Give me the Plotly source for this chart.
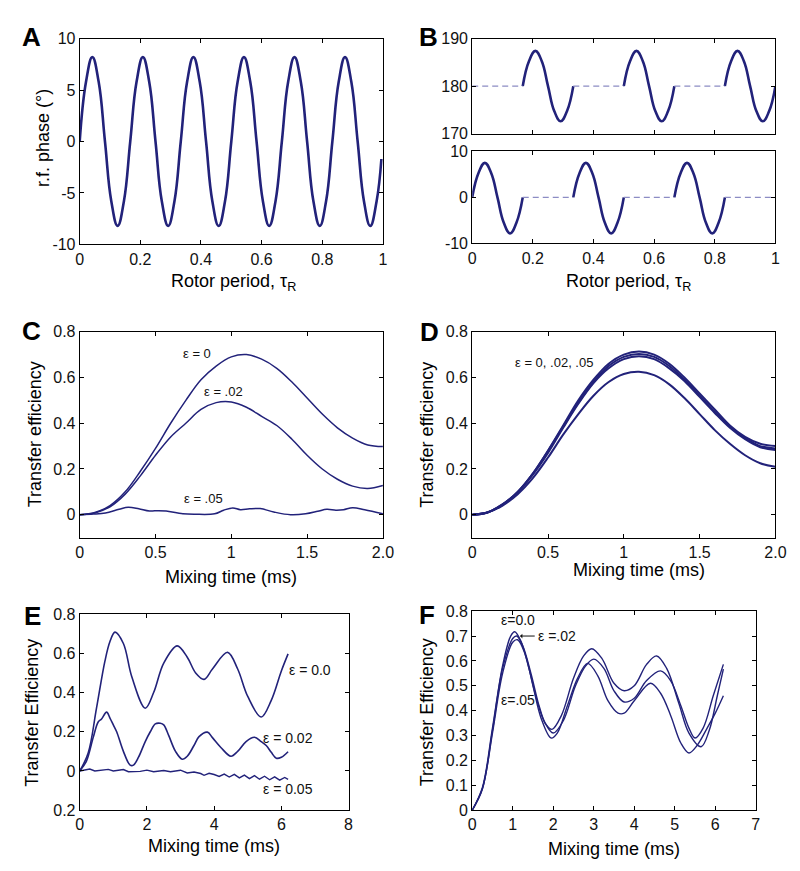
import plotly.graph_objects as go

NAVY = '#22227a'
DASH = '#8c8cc4'
FONT = 'Arial, Liberation Sans, sans-serif'

# ---- A: r.f. phase over one rotor period
phase_x = [0, .0208, .0417, .0625, .0833, .1042, .125, .1458, .1667, .1875, .2083, .2292,
           .25, .2708, .2917, .3125, .3333, .3542, .375, .3958, .4167, .4375, .4583, .4792,
           .5, .5208, .5417, .5625, .5833, .6042, .625, .6458, .6667, .6875, .7083, .7292,
           .75, .7708, .7917, .8125, .8333, .8542, .875, .8958, .9167, .9375, .9583, .9792, .995]
phase_y = [0, 5.8, 8.2, 5.8, 0, -5.8, -8.2, -5.8, 0, 5.8, 8.2, 5.8,
           0, -5.8, -8.2, -5.8, 0, 5.8, 8.2, 5.8, 0, -5.8, -8.2, -5.8,
           0, 5.8, 8.2, 5.8, 0, -5.8, -8.2, -5.8, 0, 5.8, 8.2, 5.8,
           0, -5.8, -8.2, -5.8, 0, 5.8, 8.2, 5.8, 0, -5.8, -8.2, -5.8, -1.7]

# ---- B: windowed phase pulses
pulse_dx = [0, .0208, .0417, .0625, .0833, .1042, .125, .1458, .1667]
top_pulse = [180, 185.3, 187.4, 185.3, 180, 174.7, 172.6, 174.7, 180]
bot_pulse = [0, 5.3, 7.5, 5.3, 0, -5.5, -7.8, -5.5, 0]
top_starts = [0.1667, 0.5, 0.8333]
bot_starts = [0, 0.3333, 0.6667]
top_gaps = [(0, 0.1667), (0.3333, 0.5), (0.6667, 0.8333)]
bot_gaps = [(0.1667, 0.3333), (0.5, 0.6667), (0.8333, 1.0)]

# ---- C: transfer efficiency, 0-2 ms
c_x = [0, .1, .2, .3, .4, .5, .6, .7, .8, .9, 1.0, 1.1, 1.2, 1.3, 1.4, 1.5, 1.6, 1.7, 1.8, 1.9, 2.0]
c_eps0 = [0, .01, .04, .10, .19, .29, .40, .50, .59, .65, .69, .70, .68, .64, .58, .51, .44, .38, .335, .305, .298]
c_eps02 = [0, .008, .035, .09, .17, .26, .34, .40, .46, .49, .493, .47, .43, .39, .33, .26, .20, .155, .125, .115, .128]
c05_x = [0, .09, .17, .26, .32, .39, .46, .52, .57, .68, .76, .89, .95, 1.01, 1.06, 1.12, 1.19,
         1.28, 1.39, 1.49, 1.57, 1.63, 1.69, 1.74, 1.8, 1.88, 2.0]
c_eps05 = [0, .003, .008, .024, .033, .026, .016, .018, .016, .004, .002, .004, .02, .03, .022, .026, .027,
           .012, 0, .004, .015, .024, .02, .022, .031, .022, .004]

# ---- D: compensated sequence
d_x = c_x
d_curves = [
    [0, .01, .045, .10, .18, .28, .39, .50, .59, .66, .70, .713, .70, .66, .60, .53, .46, .39, .34, .31, .30],
    [0, .01, .045, .10, .18, .28, .385, .49, .58, .65, .69, .703, .69, .65, .59, .52, .45, .385, .335, .30, .29],
    [0, .01, .043, .098, .175, .27, .38, .485, .575, .64, .68, .693, .68, .64, .585, .515, .445, .38, .33, .295, .283],
    [0, .01, .04, .09, .16, .25, .35, .44, .52, .58, .615, .625, .61, .57, .51, .44, .37, .31, .26, .225, .21],
]

# ---- E: long mixing times
e0_x = [0, .25, .5, .75, .9, 1.05, 1.3, 1.55, 1.95, 2.2, 2.5, 2.9, 3.2, 3.45, 3.7, 3.95, 4.4, 4.7, 5.0, 5.4, 5.7, 6.0, 6.2]
e0_y = [0, .09, .32, .56, .66, .708, .65, .48, .32, .40, .55, .638, .58, .50, .467, .52, .605, .52, .38, .275, .36, .51, .597]
e02_x = [0, .2, .4, .55, .65, .8, .9, 1.0, 1.1, 1.3, 1.5, 1.6, 1.75, 1.95, 2.1, 2.25, 2.4, 2.5, 2.65, 2.85,
         3.05, 3.2, 3.4, 3.55, 3.8, 3.95, 4.2, 4.5, 4.7, 4.95, 5.2, 5.4, 5.55, 5.7, 5.85, 6.0, 6.2]
e02_y = [0, .05, .17, .25, .265, .30, .27, .235, .20, .10, .03, .03, .07, .15, .20, .24, .243, .235, .18, .10,
         .06, .075, .13, .175, .198, .17, .12, .075, .10, .15, .172, .15, .13, .095, .065, .07, .098]
e05_x = [0, .3, .45, .6, .85, 1.0, 1.3, 1.45, 1.8, 2.0, 2.2, 2.5, 2.7, 3.0, 3.2, 3.4, 3.6, 3.7, 3.85, 4.0,
         4.15, 4.3, 4.45, 4.6, 4.75, 4.9, 5.05, 5.2, 5.35, 5.5, 5.65, 5.8, 5.95, 6.1, 6.2]
e05_y = [0, .01, 0, .003, .008, 0, .007, -.004, -.002, .004, -.004, .002, -.004, .004, -.01, -.005, -.013, -.022,
         -.012, -.018, -.028, -.016, -.031, -.017, -.035, -.021, -.039, -.024, -.042, -.027, -.045, -.03, -.047, -.033, -.043]

# ---- F: long mixing times, compensated
f0_x = [0, .25, .5, .75, .95, 1.05, 1.2, 1.4, 1.6, 1.8, 1.97, 2.2, 2.5, 2.75, 2.95, 3.2, 3.5, 3.75, 4.0,
        4.3, 4.55, 4.8, 5.1, 5.35, 5.65, 5.85, 6.05, 6.2]
f0_y = [0, .09, .33, .58, .70, .717, .68, .57, .44, .35, .325, .38, .53, .62, .649, .61, .51, .48, .50,
        .585, .62, .57, .43, .31, .255, .32, .46, .567]
f1_x = [0, .25, .5, .75, 1.0, 1.1, 1.25, 1.45, 1.65, 1.8, 2.0, 2.25, 2.55, 2.8, 3.0, 3.25, 3.5, 3.75, 4.0,
        4.3, 4.65, 4.9, 5.15, 5.35, 5.5, 5.7, 5.95, 6.2]
f1_y = [0, .085, .32, .57, .69, .70, .66, .55, .42, .35, .31, .36, .50, .58, .607, .57, .48, .435, .45,
        .52, .56, .52, .42, .33, .29, .33, .46, .586]
f2_x = [0, .25, .5, .75, 1.0, 1.12, 1.3, 1.5, 1.7, 1.95, 2.1, 2.35, 2.6, 2.85, 3.1, 3.35, 3.6, 3.75, 4.0,
        4.4, 4.65, 4.9, 5.15, 5.35, 5.55, 5.8, 6.0, 6.2]
f2_y = [0, .085, .31, .55, .675, .685, .63, .50, .37, .29, .31, .42, .53, .59, .54, .44, .39, .39, .44,
        .51, .47, .38, .27, .23, .26, .33, .39, .46]


def line(x, y, ax, width=1.5, color=NAVY, dash=None, smooth=1.0):
    return go.Scatter(x=x, y=y, xaxis='x' + ax, yaxis='y' + ax, mode='lines',
                      line=dict(color=color, width=width, dash=dash,
                                shape='spline' if smooth else 'linear', smoothing=smooth or 0),
                      showlegend=False, hoverinfo='skip')


fig = go.Figure()

# A
fig.add_trace(line(phase_x, phase_y, '', width=2.6, smooth=1.25))

# B
for s in top_starts:
    fig.add_trace(line([s + d for d in pulse_dx], top_pulse, '2', width=2.6, smooth=1.25))
for a, b in top_gaps:
    fig.add_trace(line([a, b], [180, 180], '2', width=1.2, color=DASH, dash='6px,4px', smooth=0))
for s in bot_starts:
    fig.add_trace(line([s + d for d in pulse_dx], bot_pulse, '3', width=2.6, smooth=1.25))
for a, b in bot_gaps:
    fig.add_trace(line([a, b], [0, 0], '3', width=1.2, color=DASH, dash='6px,4px', smooth=0))

# C
fig.add_trace(line(c_x, c_eps0, '4'))
fig.add_trace(line(c_x, c_eps02, '4'))
fig.add_trace(line(c05_x, c_eps05, '4'))

# D
for ys in d_curves:
    fig.add_trace(line(d_x, ys, '5', width=2))

# E
fig.add_trace(line(e0_x, e0_y, '6', width=1.6))
fig.add_trace(line(e02_x, e02_y, '6', width=1.6))
fig.add_trace(line(e05_x, e05_y, '6', width=1.4, smooth=0))

# F
fig.add_trace(line(f0_x, f0_y, '7', width=1.4))
fig.add_trace(line(f1_x, f1_y, '7', width=1.4))
fig.add_trace(line(f2_x, f2_y, '7', width=1.4))

W, H = 800, 871


def fx(p):
    return p / W


def fy(p):
    return 1 - p / H


axis_style = dict(showline=True, linecolor='black', linewidth=1, mirror='ticks',
                  ticks='inside', ticklen=4, tickcolor='black', showgrid=False,
                  zeroline=False, tickfont=dict(family=FONT, size=16, color='#111'))


def xax(dom, rng, vals, text, anchor, labels=True):
    return dict(axis_style, domain=[fx(dom[0]), fx(dom[1])], range=rng, tickvals=vals,
                ticktext=text, anchor=anchor, showticklabels=labels)


def yax(dom, rng, vals, text, anchor):
    return dict(axis_style, domain=[fy(dom[1]), fy(dom[0])], range=rng, tickvals=vals,
                ticktext=text, anchor=anchor)


fr = [0, .2, .4, .6, .8, 1]
fr_t = ['0', '0.2', '0.4', '0.6', '0.8', '1']
ms2 = [0, .5, 1, 1.5, 2]
ms2_t = ['0', '0.5', '1', '1.5', '2.0']
te = [0, .2, .4, .6, .8]
te_t = ['0', '0.2', '0.4', '0.6', '0.8']

fig.update_layout(
    xaxis=xax((69, 378), [0, 1], fr, fr_t, 'y'),
    yaxis=yax((23, 233), [-10, 10], [-10, -5, 0, 5, 10], ['-10', '-5', '0', '5', '10'], 'x'),
    xaxis2=xax((469, 778), [0, 1], fr, fr_t, 'y2', labels=False),
    yaxis2=yax((23, 120), [170, 190], [170, 180, 190], ['170', '180', '190'], 'x2'),
    xaxis3=xax((469, 778), [0, 1], fr, fr_t, 'y3'),
    yaxis3=yax((138, 232), [-10, 10], [-10, 0, 10], ['-10', '0', '10'], 'x3'),
    xaxis4=xax((69, 378), [0, 2], ms2, ms2_t, 'y4'),
    yaxis4=yax((322, 532), [-0.1, 0.8], te, te_t, 'x4'),
    xaxis5=xax((469, 778), [0, 2], ms2, ms2_t, 'y5'),
    yaxis5=yax((322, 532), [-0.1, 0.8], te, te_t, 'x5'),
    xaxis6=xax((69, 343), [0, 8], [0, 2, 4, 6, 8], ['0', '2', '4', '6', '8'], 'y6'),
    yaxis6=yax((610, 810), [-0.2, 0.8], [-0.2, 0, .2, .4, .6, .8],
               ['0.2', '0', '0.2', '0.4', '0.6', '0.8'], 'x6'),
    xaxis7=xax((469, 758), [0, 7], list(range(8)), [str(i) for i in range(8)], 'y7'),
    yaxis7=yax((607, 810), [0, 0.8], [0, .1, .2, .3, .4, .5, .6, .7, .8],
               ['0', '0.1', '0.2', '0.3', '0.4', '0.5', '0.6', '0.7', '0.8'], 'x7'),
    width=W, height=H,
    margin=dict(l=0, r=0, t=0, b=0),
    paper_bgcolor='white', plot_bgcolor='white',
    font=dict(family=FONT, color='#111'),
)


def paper_text(text, x, y, size=18, angle=0, bold=False):
    if bold:
        text = '<b>' + text + '</b>'
    fig.add_annotation(text=text, x=fx(x), y=fy(y), xref='paper', yref='paper',
                       showarrow=False, textangle=angle, xanchor='center', yanchor='middle',
                       font=dict(family=FONT, size=size, color='black'))


def data_text(text, x, y, ax, size=13):
    fig.add_annotation(text=text, x=x, y=y, xref='x' + ax, yref='y' + ax, showarrow=False,
                       xanchor='center', yanchor='middle',
                       font=dict(family=FONT, size=size, color='#111'))


# panel letters
for letter, x, y in [('A', 20, 21), ('B', 424, 21), ('C', 20, 321), ('D', 425, 322),
                     ('E', 21, 612), ('F', 423, 611)]:
    paper_text(letter, x, y, size=26, bold=True)

# axis titles
rotor = 'Rotor period, \u03c4<sub>R</sub>'
paper_text(rotor, 226, 272)
paper_text(rotor, 628, 272)
paper_text('r.f. phase (\u00b0)', 31, 124, angle=-90)
paper_text('Mixing time (ms)', 223, 572)
paper_text('Mixing time (ms)', 639, 565)
paper_text('Transfer efficiency', 23, 427, angle=-90)
paper_text('Transfer efficiency', 423, 427, angle=-90)
paper_text('Mixing time (ms)', 206, 847)
paper_text('Mixing time (ms)', 613, 850)
paper_text('Transfer Efficiency', 21, 711, angle=-90)
paper_text('Transfer Efficiency', 423, 710, angle=-90)

# curve labels
data_text('\u03b5 = 0', 0.776, 0.703, '4')
data_text('\u03b5 = .02', 0.948, 0.539, '4')
data_text('\u03b5 = .05', 0.815, 0.071, '4')
data_text('\u03b5 = 0, .02, .05', 0.539, 0.667, '5')
data_text('\u03b5 = 0.0', 6.85, 0.513, '6', size=14)
data_text('\u03b5 = 0.02', 6.2, 0.167, '6', size=14)
data_text('\u03b5 = 0.05', 6.2, -0.092, '6', size=14)
data_text('\u03b5=0.0', 1.14, 0.765, '7', size=14)
data_text('\u03b5=.05', 1.13, 0.443, '7', size=14)
data_text('\u03b5 =.02', 2.09, 0.70, '7', size=14)
fig.add_annotation(x=1.18, y=0.70, ax=1.58, ay=0.70, xref='x7', yref='y7', axref='x7', ayref='y7',
                   text='', showarrow=True, arrowhead=1, arrowsize=0.8, arrowwidth=1,
                   arrowcolor='#111')

fig.write_html('out.html')
